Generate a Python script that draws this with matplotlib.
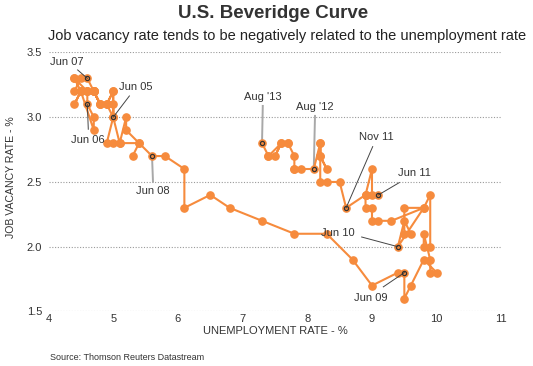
import matplotlib
matplotlib.use("Agg")
import matplotlib.pyplot as plt

plt.rcParams['font.family'] = ['Liberation Sans', 'DejaVu Sans']

# Monthly data, Jan 2005 .. Aug 2013
unemployment = [
    5.3, 5.4, 5.2, 5.2, 5.1, 5.0, 5.0, 4.9, 5.0, 5.0, 4.9, 4.8,   # 2005
    4.7, 4.8, 4.7, 4.7, 4.6, 4.6, 4.7, 4.7, 4.5, 4.4, 4.5, 4.4,   # 2006
    4.6, 4.5, 4.4, 4.5, 4.4, 4.6, 4.7, 4.6, 4.7, 4.8, 4.9, 5.0,   # 2007
    5.0, 4.9, 5.1, 5.0, 5.4, 5.6, 5.8, 6.1, 6.1, 6.5, 6.8, 7.3,   # 2008
    7.8, 8.3, 8.7, 9.0, 9.4, 9.5, 9.5, 9.6, 9.8, 10.0, 9.9, 9.9,  # 2009
    9.8, 9.8, 9.9, 9.9, 9.8, 9.4, 9.5, 9.6, 9.5, 9.5, 9.8, 9.3,   # 2010
    9.1, 9.0, 9.0, 8.9, 8.9, 9.1, 9.0, 9.0, 8.9, 8.9, 8.6, 8.5,   # 2011
    8.3, 8.2, 8.2, 8.2, 8.3, 8.2, 8.2, 8.1, 7.8, 7.9, 7.8, 7.8,   # 2012
    7.7, 7.7, 7.6, 7.5, 7.6, 7.4, 7.4, 7.3,                       # 2013
]
vacancy = [
    2.7, 2.8, 2.9, 3.0, 2.8, 3.0, 3.2, 3.1, 3.1, 3.0, 3.1, 3.1,
    3.2, 3.1, 3.2, 3.2, 3.2, 3.1, 3.0, 2.9, 3.2, 3.2, 3.3, 3.3,
    3.2, 3.2, 3.1, 3.2, 3.3, 3.3, 3.2, 3.2, 3.2, 3.1, 3.1, 3.2,
    3.0, 2.8, 2.8, 2.8, 2.8, 2.7, 2.7, 2.6, 2.3, 2.4, 2.3, 2.2,
    2.1, 2.1, 1.9, 1.7, 1.8, 1.8, 1.6, 1.7, 1.9, 1.8, 1.8, 1.9,
    2.1, 2.0, 2.0, 2.4, 2.3, 2.0, 2.2, 2.1, 2.1, 2.3, 2.3, 2.2,
    2.2, 2.2, 2.3, 2.3, 2.4, 2.4, 2.4, 2.6, 2.4, 2.4, 2.3, 2.5,
    2.5, 2.5, 2.8, 2.7, 2.6, 2.7, 2.8, 2.6, 2.6, 2.6, 2.6, 2.7,
    2.8, 2.8, 2.8, 2.7, 2.8, 2.7, 2.7, 2.8,
]

# labelled months: (index into series, text)
label_index = [5, 17, 29, 41, 53, 65, 77, 82, 91, 103]
label_text = ["Jun 05", "Jun 06", "Jun 07", "Jun 08", "Jun 09", "Jun 10",
              "Jun 11", "Nov 11", "Aug '12", "Aug '13"]
# layout: text centre, leader start, leader style (dark thin / light gray)
label_xy = [(5.345, 3.237), (4.615, 2.824), (4.28, 3.43), (5.615, 2.43),
            (8.98, 1.606), (8.464, 2.108), (9.649, 2.567), (9.07, 2.844),
            (8.119, 3.075), (7.312, 3.156)]
leader_start = [(5.25, 3.164), (4.615, 2.907), (4.45, 3.365), (5.615, 2.502),
                (9.175, 1.69), (8.84, 2.075), (9.422, 2.495), (9.011, 2.773),
                (8.119, 3.01), (7.312, 3.087)]
leader_light = [False, False, False, True, False, False, False, False, True, True]

x_ticks = [4, 5, 6, 7, 8, 9, 10, 11]
y_ticks = [1.5, 2.0, 2.5, 3.0, 3.5]

orange = '#F68B3D'
dark = '#333333'

fig = plt.figure(figsize=(5.33, 3.66), dpi=100)
ax = fig.add_axes([0.091, 0.149, 0.8497, 0.7077])

ax.set_xlim(4, 11)
ax.set_ylim(1.5, 3.5)
ax.set_xticks(x_ticks)
ax.set_xticklabels([str(t) for t in x_ticks])
ax.set_yticks(y_ticks)
ax.set_yticklabels([f"{t:.1f}" for t in y_ticks])
for s in ax.spines.values():
    s.set_visible(False)
ax.tick_params(length=0, labelsize=8, colors=dark)
ax.tick_params(axis='x', pad=1.5)
ax.tick_params(axis='y', pad=4.5)
ax.yaxis.grid(True, linestyle=(0, (1, 1.5)), color='#9a9a9a', lw=0.8)
ax.set_axisbelow(True)

ax.plot(unemployment, vacancy, color=orange, lw=1.5, marker='o',
        markersize=5.2, markerfacecolor=orange, markeredgecolor=orange,
        zorder=3, clip_on=False)

for i, txt, (tx, ty), (lx, ly), light in zip(label_index, label_text, label_xy,
                                              leader_start, leader_light):
    px, py = unemployment[i], vacancy[i]
    if light:
        ax.plot([lx, px], [ly, py], color='#a8a8a8', lw=1.4, zorder=2)
    else:
        ax.plot([lx, px], [ly, py], color='#444444', lw=0.7, zorder=4)
    ax.plot([px], [py], marker='o', markersize=3, markerfacecolor='none',
            markeredgecolor='#333333', markeredgewidth=0.9, zorder=5)
    ax.text(tx, ty, txt, ha='center', va='center', fontsize=8, color=dark,
            zorder=6)

fig.text(273 / 533, 1 - 14 / 366, "U.S. Beveridge Curve", ha='center', va='center',
         fontsize=13.5, fontweight='bold', color=dark)
fig.text(287.5 / 533, 1 - 36 / 366,
         "Job vacancy rate tends to be negatively related to the unemployment rate",
         ha='center', va='center', fontsize=10.5, color='#222222')
fig.text(275 / 533, 1 - 331 / 366, "UNEMPLOYMENT RATE - %", ha='center',
         va='center', fontsize=8, color=dark)
fig.text(11 / 533, 1 - 177 / 366, "JOB VACANCY RATE - %", ha='center',
         va='center', rotation=90, fontsize=7.6, color=dark)
fig.text(50 / 533, 1 - 357 / 366, "Source: Thomson Reuters Datastream",
         ha='left', va='center', fontsize=6.5, color=dark)

fig.savefig("out.png", dpi=100)
